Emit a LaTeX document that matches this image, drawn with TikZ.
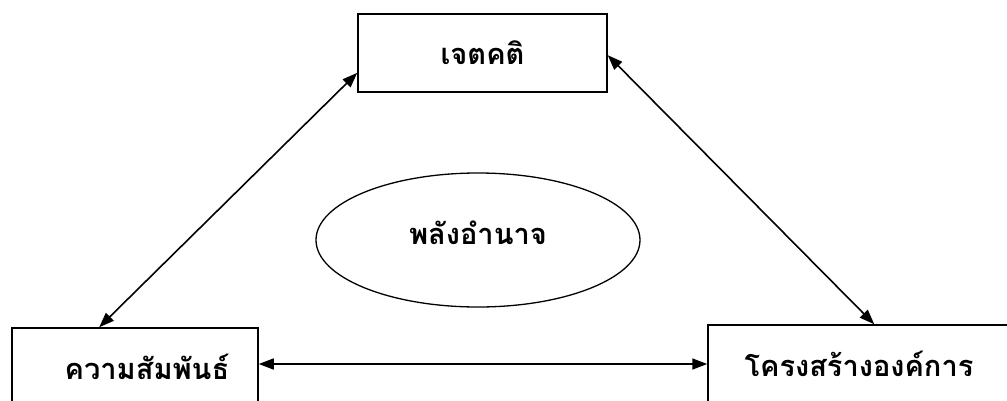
\documentclass[tikz,border=0pt]{standalone}
\usepackage{fontspec}
\setmainfont[Script=Thai]{Loma}
\usetikzlibrary{shapes.geometric,arrows.meta}

\begin{document}
\begin{tikzpicture}[x=1pt,y=-1pt,
  box/.style={draw,line width=1.5pt,rectangle,minimum height=78pt,font=\fontsize{29}{34}\selectfont\bfseries},
  link/.style={line width=1.6pt,{Triangle[length=15pt,width=11pt]}-{Triangle[length=15pt,width=11pt]}}]

  \useasboundingbox (0,0) rectangle (1007,400);

  \node[box,minimum width=249pt] (att) at (482.5,53) {เจตคติ};
  \node[box,minimum width=246pt,inner xsep=0pt,text width=240pt,align=center] (rel) at (135,367) {\hspace*{24pt}ความสัมพันธ์};
  \node[box,minimum width=302pt] (org) at (859,364) {โครงสร้างองค์การ};
  \node[draw,ellipse,line width=1.3pt,inner sep=0pt,minimum width=324pt,minimum height=134pt,text depth=14pt,
    font=\fontsize{29}{34}\selectfont\bfseries] (pow) at (478,240) {พลังอำนาจ};

  \draw[link] (rel.132) -- (att.189);
  \draw[link] (att.-1) -- (org.69);
  \draw[link] (rel.east |- org.west) -- (org.west);
\end{tikzpicture}
\end{document}
